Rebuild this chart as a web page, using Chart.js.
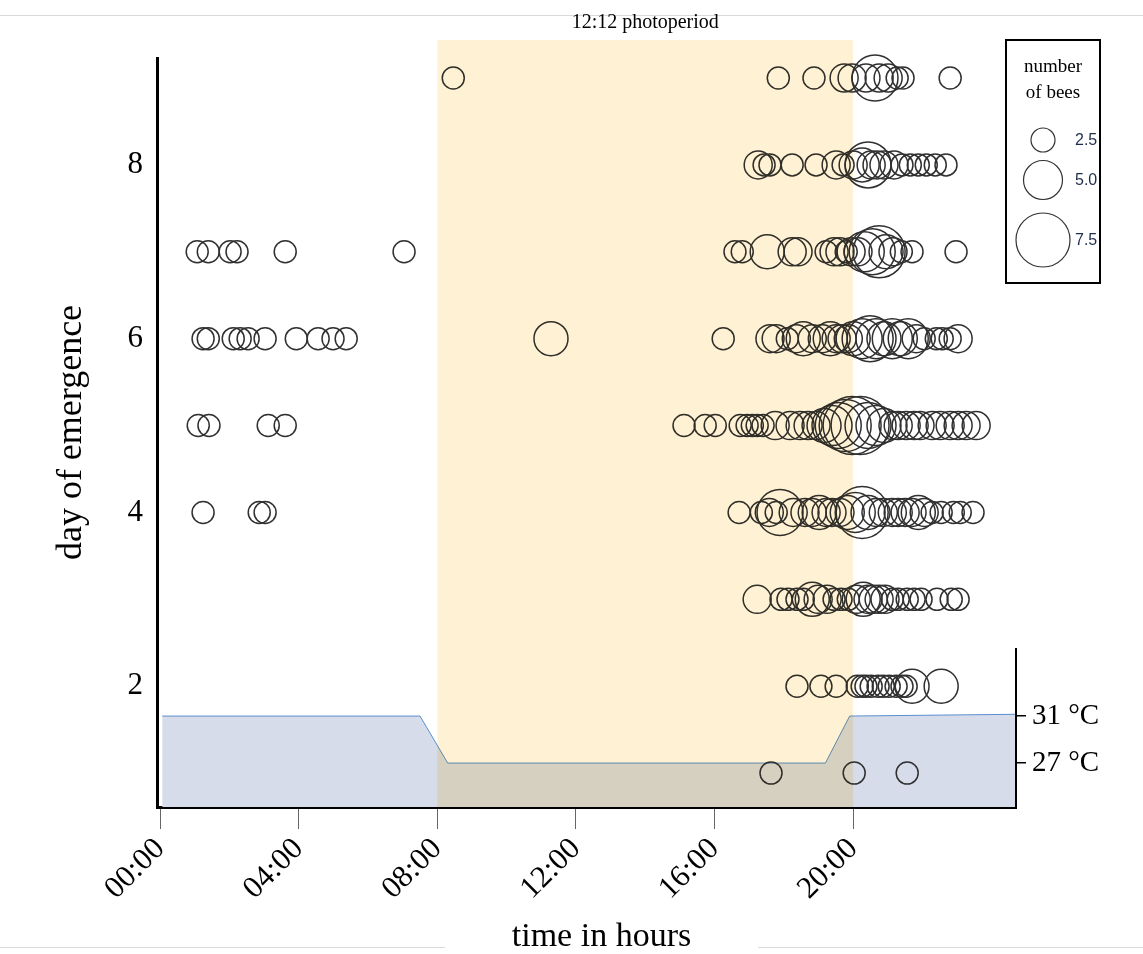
<!DOCTYPE html>
<html>
<head>
<meta charset="utf-8">
<script src="https://cdn.jsdelivr.net/npm/chart.js@4"></script>
<style>
  body{margin:0;background:#fff;}
  #wrap{position:relative;width:1143px;height:954px;}
  .rule{position:absolute;height:1px;background:#d9d9d9;}
</style>
</head>
<body>
<div id="wrap">
  <div class="rule" style="left:0;top:15px;width:1143px"></div>
  <div class="rule" style="left:0;top:947px;width:445px"></div>
  <div class="rule" style="left:758px;top:947px;width:385px"></div>
  <canvas id="c" width="1143" height="954" style="position:absolute;left:0;top:0"></canvas>
</div>
<script>
// emergence events per day: [time in hours, number of bees]
const day9 = [[8.46,2],[17.84,2],[18.87,2],[19.74,3],[19.97,3],[20.37,3],[20.63,6],[20.75,3],[21.01,3],[21.27,2],[21.44,2],[22.80,2]];
const day8 = [[17.26,3],[17.43,2],[17.60,2],[18.24,2],[18.93,2],[19.51,3],[19.71,2],[20.00,3],[20.26,4],[20.43,6],[20.52,3],[20.69,3],[20.89,3],[21.18,3],[21.41,2],[21.65,2],[21.88,2],[22.11,2],[22.37,2],[22.68,2]];
const day7 = [[1.07,2],[1.39,2],[2.02,2],[2.22,2],[3.61,2],[7.04,2],[16.59,2],[16.80,2],[17.52,4],[18.24,3],[18.41,3],[19.22,2],[19.45,3],[19.62,3],[19.80,2],[19.94,3],[20.14,3],[20.32,5],[20.55,6],[20.75,7],[20.95,4],[21.15,3],[21.39,2],[21.70,2],[22.97,2]];
const day6 = [[1.24,2],[1.39,2],[2.11,2],[2.31,2],[2.54,2],[3.03,2],[3.93,2],[4.56,2],[4.99,2],[5.37,2],[11.28,4],[16.25,2],[17.60,3],[17.78,3],[18.10,2],[18.36,3],[18.56,4],[18.82,3],[19.11,3],[19.34,4],[19.51,3],[19.68,3],[19.86,3],[20.00,4],[20.26,5],[20.49,6],[20.66,5],[20.89,4],[21.13,5],[21.36,4],[21.59,5],[21.82,3],[22.05,2],[22.40,2],[22.57,2],[22.80,2],[23.03,3]];
const day5 = [[1.10,2],[1.41,2],[3.12,2],[3.61,2],[15.12,2],[15.73,2],[16.02,2],[16.74,2],[16.94,2],[17.09,2],[17.23,2],[17.40,2],[17.75,3],[18.18,3],[18.47,3],[18.70,3],[18.93,3],[19.16,4],[19.39,5],[19.57,6],[19.77,7],[19.97,8],[20.20,8],[20.43,6],[20.66,5],[20.89,4],[21.15,3],[21.30,3],[21.53,3],[21.76,3],[21.93,3],[22.28,3],[22.51,3],[22.80,3],[23.03,3],[23.26,3],[23.55,3]];
const day4 = [[1.24,2],[2.86,2],[3.03,2],[16.71,2],[17.35,2],[17.58,3],[17.78,2],[17.89,6],[18.27,3],[18.61,3],[18.82,3],[19.02,4],[19.22,3],[19.39,3],[19.62,3],[19.83,4],[20.06,5],[20.26,7],[20.43,4],[20.66,3],[20.87,3],[21.13,3],[21.30,3],[21.50,3],[21.70,3],[21.88,4],[22.05,3],[22.28,2],[22.54,2],[22.89,2],[23.09,2],[23.46,2]];
const day3 = [[17.23,3],[17.92,2],[18.12,2],[18.38,2],[18.56,2],[18.82,4],[18.99,3],[19.25,3],[19.45,2],[19.65,2],[19.86,2],[20.09,3],[20.29,4],[20.43,3],[20.58,3],[20.75,3],[20.92,3],[21.13,2],[21.30,2],[21.56,2],[21.76,2],[21.96,2],[22.42,2],[22.83,2],[23.03,2]];
const day2 = [[18.38,2],[19.07,2],[19.51,2],[20.12,2],[20.26,2],[20.37,2],[20.52,2],[20.72,2],[20.87,2],[21.04,2],[21.24,2],[21.41,2],[21.53,2],[21.70,4],[22.54,4]];
const day1 = [[17.63,2],[20.03,2],[21.56,2]];
const days = [day1, day2, day3, day4, day5, day6, day7, day8, day9];

// temperature profile (°C)
const tempHours = [0.06, 7.5, 8.3, 19.2, 19.9, 24.7];
const tempValues = [31, 31, 27, 27, 31, 31.15];
const tempTicks = [27, 31];
const tempAxisTop = 36.8;

// light phase
const lightOn = 8, lightOff = 20;

const xTicks = [0, 4, 8, 12, 16, 20];
const xTickLabels = ['00:00', '04:00', '08:00', '12:00', '16:00', '20:00'];
const dayTicks = [2, 4, 6, 8];
const legendValues = [2.5, 5.0, 7.5];

const SERIF = "'Liberation Serif', 'Times New Roman', serif";
const beeRadius = n => 5 + 3 * n;

const bubbles = [];
days.forEach((rows, i) => rows.forEach(([h, n]) => bubbles.push({x: h, y: i + 1, r: beeRadius(n)})));

const extras = {
  id: 'extras',
  afterDatasetsDraw(chart) {
    const {ctx, chartArea: a, scales: {x}} = chart;
    const l = x.getPixelForValue(lightOn), r = x.getPixelForValue(lightOff);
    ctx.save();
    ctx.globalCompositeOperation = 'multiply';
    ctx.fillStyle = '#fff2d4';
    ctx.fillRect(l, a.top - 18, r - l, a.bottom - a.top + 18);
    ctx.restore();
  },
  afterDraw(chart) {
    const {ctx, chartArea: a, scales: {x, y2}} = chart;
    ctx.save();
    ctx.fillStyle = '#000';
    ctx.textAlign = 'center';
    ctx.textBaseline = 'middle';
    // title over the light phase
    ctx.font = '20px ' + SERIF;
    ctx.fillText('12:12 photoperiod', x.getPixelForValue((lightOn + lightOff) / 2), a.top - 35);
    // x axis title
    ctx.font = '34px ' + SERIF;
    ctx.fillText('time in hours', (a.left + a.right) / 2 + 15, a.bottom + 130);

    // right temperature axis line
    ctx.strokeStyle = '#000';
    ctx.lineWidth = 2;
    ctx.beginPath();
    ctx.moveTo(a.right, y2.getPixelForValue(tempAxisTop));
    ctx.lineTo(a.right, a.bottom);
    ctx.stroke();

    // size legend
    const bx = a.right - 10, by = a.top - 18, bw = 94, bh = 243;
    ctx.lineWidth = 2;
    ctx.strokeRect(bx, by, bw, bh);
    ctx.font = '19px ' + SERIF;
    ctx.fillText('number', bx + bw / 2, by + 27);
    ctx.fillText('of bees', bx + bw / 2, by + 53);
    const cy = [by + 100, by + 140, by + 200];
    legendValues.forEach((v, i) => {
      ctx.beginPath();
      ctx.lineWidth = 1.2;
      ctx.strokeStyle = '#333';
      ctx.arc(bx + 37, cy[i], beeRadius(v) - 0.5, 0, Math.PI * 2);
      ctx.stroke();
      ctx.fillStyle = '#1f2d4d';
      ctx.font = '16px "Liberation Sans", Arial, sans-serif';
      ctx.textAlign = 'left';
      ctx.fillText(v.toFixed(1), bx + 69, cy[i] + 1);
    });
    ctx.restore();
  }
};

new Chart(document.getElementById('c'), {
  data: {
    datasets: [
      {
        type: 'bubble',
        data: bubbles,
        backgroundColor: 'rgba(0,0,0,0)',
        borderColor: '#303030',
        borderWidth: 1.5,
        clip: false,
        order: 1
      },
      {
        type: 'line',
        yAxisID: 'y2',
        data: tempHours.map((h, i) => ({x: h, y: tempValues[i]})),
        borderColor: '#5b8fd0',
        borderWidth: 1,
        backgroundColor: '#d6dce9',
        fill: 'start',
        pointRadius: 0,
        tension: 0,
        order: 2
      }
    ]
  },
  options: {
    responsive: false,
    animation: false,
    events: [],
    layout: {padding: {top: 58, left: 0, right: 0, bottom: 0}},
    plugins: {legend: {display: false}, tooltip: {enabled: false}},
    scales: {
      x: {
        type: 'linear',
        min: -0.09,
        max: 24.7,
        afterFit: s => { s.height = 147; },
        afterBuildTicks: s => { s.ticks = xTicks.map(v => ({value: v})); },
        grid: {drawOnChartArea: false, drawTicks: true, tickLength: 22, color: '#666', lineWidth: 1},
        border: {display: true, color: '#000', width: 3},
        ticks: {
          autoSkip: false, minRotation: 45, maxRotation: 45, padding: 2,
          color: '#000', font: {family: SERIF, size: 31},
          callback: v => xTickLabels[xTicks.indexOf(v)]
        }
      },
      y: {
        type: 'linear',
        min: 0.61,
        max: 9.23,
        afterFit: s => { s.width = 157; },
        afterBuildTicks: s => { s.ticks = dayTicks.map(v => ({value: v})); },
        grid: {display: false},
        border: {display: true, color: '#000', width: 3},
        ticks: {color: '#000', padding: 6, font: {family: SERIF, size: 31}},
        title: {display: true, text: 'day of emergence', color: '#000', font: {family: SERIF, size: 36}, padding: {top: 50}}
      },
      y2: {
        type: 'linear',
        position: 'right',
        min: 23.26,
        max: 87.0,
        afterFit: s => { s.width = 127; },
        afterBuildTicks: s => { s.ticks = tempTicks.map(v => ({value: v})); },
        grid: {drawOnChartArea: false, drawTicks: true, tickLength: 10, color: '#000', lineWidth: 1.5},
        border: {display: false},
        ticks: {color: '#000', padding: 6, font: {family: SERIF, size: 29}, callback: v => v + ' °C'}
      }
    }
  },
  plugins: [extras]
});
</script>
</body>
</html>
